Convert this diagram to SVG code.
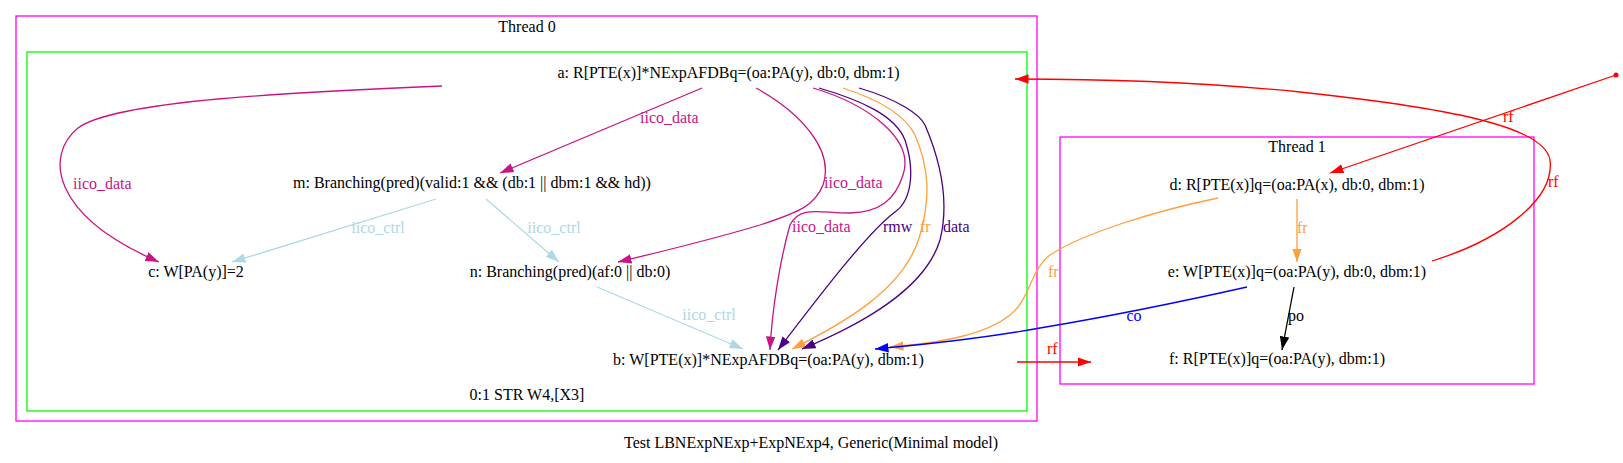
<svg xmlns="http://www.w3.org/2000/svg" width="1623" height="463" viewBox="0 0 1623 463">
<style>
text{font-family:"Liberation Serif","Times New Roman",serif;font-size:16px;fill:#000}
.m{text-anchor:middle}
.e{fill:none;stroke-width:1.3}
.pk{stroke:#c71585}.pkt{fill:#c71585}
.lb{stroke:#add8e6}.lbt{fill:#add8e6}
.ind{stroke:#4b0082}.indt{fill:#4b0082}
.or{stroke:#ff9f3f}.ort{fill:#ff9f3f}
.bl{stroke:#0000ff}.blt{fill:#0000ff}
.rd{stroke:#ff0000}.rdt{fill:#ff0000}
.bk{stroke:#000}
.cl{fill:none;stroke-width:1.3}
</style>
<defs>
<marker id="apk" viewBox="0 0 13.5 9.5" markerWidth="13.5" markerHeight="9.5" refX="13.5" refY="4.75" markerUnits="userSpaceOnUse" orient="auto"><path d="M0,0L13.5,4.75L0,9.5z" fill="#c71585"/></marker>
<marker id="alb" viewBox="0 0 13.5 9.5" markerWidth="13.5" markerHeight="9.5" refX="13.5" refY="4.75" markerUnits="userSpaceOnUse" orient="auto"><path d="M0,0L13.5,4.75L0,9.5z" fill="#add8e6"/></marker>
<marker id="aind" viewBox="0 0 13.5 9.5" markerWidth="13.5" markerHeight="9.5" refX="13.5" refY="4.75" markerUnits="userSpaceOnUse" orient="auto"><path d="M0,0L13.5,4.75L0,9.5z" fill="#4b0082"/></marker>
<marker id="aor" viewBox="0 0 13.5 9.5" markerWidth="13.5" markerHeight="9.5" refX="13.5" refY="4.75" markerUnits="userSpaceOnUse" orient="auto"><path d="M0,0L13.5,4.75L0,9.5z" fill="#ff9f3f"/></marker>
<marker id="abl" viewBox="0 0 13.5 9.5" markerWidth="13.5" markerHeight="9.5" refX="13.5" refY="4.75" markerUnits="userSpaceOnUse" orient="auto"><path d="M0,0L13.5,4.75L0,9.5z" fill="#0000ff"/></marker>
<marker id="ard" viewBox="0 0 13.5 9.5" markerWidth="13.5" markerHeight="9.5" refX="13.5" refY="4.75" markerUnits="userSpaceOnUse" orient="auto"><path d="M0,0L13.5,4.75L0,9.5z" fill="#ff0000"/></marker>
<marker id="abk" viewBox="0 0 13.5 9.5" markerWidth="13.5" markerHeight="9.5" refX="13.5" refY="4.75" markerUnits="userSpaceOnUse" orient="auto"><path d="M0,0L13.5,4.75L0,9.5z" fill="#000"/></marker>
</defs>
<rect width="1623" height="463" fill="#fff"/>
<g id="clusters">
<rect class="cl" x="16" y="16" width="1021" height="405" stroke="#ff00ff"/>
<text class="m" x="527" y="32">Thread 0</text>
<rect class="cl" x="27" y="52" width="1000" height="359" stroke="#00ff00"/>
<text class="m" x="527" y="400">0:1 STR W4,[X3]</text>
<rect class="cl" x="1060" y="137" width="474" height="247" stroke="#ff00ff"/>
<text class="m" x="1297" y="152">Thread 1</text>
</g>
<g id="edges">
<path class="e pk" d="M442,86 C300,92 115,100 78,128 C45,155 50,215 159,262" marker-end="url(#apk)"/>
<text class="pkt" x="73" y="189">iico_data</text>
<path class="e pk" d="M702,88 L500,173" marker-end="url(#apk)"/>
<text class="pkt" x="640" y="123">iico_data</text>
<path class="e pk" d="M756,88 C800,112 835,150 823,185 C815,205 800,212 760,225 C710,240 660,252 618,262" marker-end="url(#apk)"/>
<text class="pkt" x="824" y="188">iico_data</text>
<path class="e pk" d="M813,88 C870,105 915,140 903,175 C895,200 880,212 850,213 C820,213 800,205 790,225 C780,260 772,310 770,350" marker-end="url(#apk)"/>
<text class="pkt" x="792" y="232">iico_data</text>
<path class="e ind" d="M819,88 C860,100 895,115 905,140 C915,170 912,200 895,212 C868,232 820,295 778,350" marker-end="url(#aind)"/>
<text class="indt" x="883" y="232">rmw</text>
<path class="e or" d="M843,88 C880,100 905,115 915,135 C930,170 930,200 920,235 C905,290 840,325 792,349" marker-end="url(#aor)"/>
<text class="ort" x="920" y="232">fr</text>
<path class="e ind" d="M859,88 C900,100 920,115 925,125 C940,160 950,200 940,240 C925,290 860,325 802,349" marker-end="url(#aind)"/>
<text class="indt" x="943" y="232">data</text>
<path class="e lb" d="M436,199 L232,262" marker-end="url(#alb)"/>
<text class="lbt m" x="378" y="233">iico_ctrl</text>
<path class="e lb" d="M486,199 L559,262" marker-end="url(#alb)"/>
<text class="lbt m" x="554" y="233">iico_ctrl</text>
<path class="e lb" d="M597,287 L743,349" marker-end="url(#alb)"/>
<text class="lbt m" x="709" y="320">iico_ctrl</text>
<path class="e or" d="M1218,198 C1150,212 1080,235 1050,255 C1030,270 1030,300 1010,315 C985,335 940,343 890,347" marker-end="url(#aor)"/>
<text class="ort" x="1048" y="277">fr</text>
<path class="e bl" d="M1247,287 C1180,302 1100,318 1040,328 C990,337 930,344 875,349" marker-end="url(#abl)"/>
<text class="blt m" x="1134" y="321">co</text>
<path class="e or" d="M1297,199 L1297,262" marker-end="url(#aor)"/>
<text class="ort" x="1297" y="233">fr</text>
<path class="e bk" d="M1294,287 L1282,350" marker-end="url(#abk)"/>
<text x="1288" y="321">po</text>
<path class="e rd" d="M1432,261 C1500,240 1555,200 1550,160 C1545,130 1470,110 1300,92 C1200,82 1100,79 1015,79" marker-end="url(#ard)"/>
<text class="rdt" x="1548" y="187">rf</text>
<circle cx="1616" cy="75" r="2.5" fill="#ff0000"/>
<path class="e rd" d="M1616,75 L1330,173" marker-end="url(#ard)"/>
<text class="rdt" x="1503" y="122">rf</text>
<path class="e rd" d="M1017,362 L1091,362" marker-end="url(#ard)"/>
<text class="rdt" x="1047" y="354">rf</text>
</g>
<g id="a"><text class="m" x="728.5" y="78">a: R[PTE(x)]*NExpAFDBq=(oa:PA(y), db:0, dbm:1)</text></g>
<g id="m"><text class="m" x="472" y="188">m: Branching(pred)(valid:1 &amp;&amp; (db:1 || dbm:1 &amp;&amp; hd))</text></g>
<g id="c"><text class="m" x="196" y="277">c: W[PA(y)]=2</text></g>
<g id="n"><text class="m" x="570" y="277">n: Branching(pred)(af:0 || db:0)</text></g>
<g id="b"><text class="m" x="768.5" y="365">b: W[PTE(x)]*NExpAFDBq=(oa:PA(y), dbm:1)</text></g>
<g id="d"><text class="m" x="1297" y="190">d: R[PTE(x)]q=(oa:PA(x), db:0, dbm:1)</text></g>
<g id="e"><text class="m" x="1297" y="277">e: W[PTE(x)]q=(oa:PA(y), db:0, dbm:1)</text></g>
<g id="f"><text class="m" x="1277" y="364">f: R[PTE(x)]q=(oa:PA(y), dbm:1)</text></g>
<text class="m" x="811" y="448">Test LBNExpNExp+ExpNExp4, Generic(Minimal model)</text>
</svg>
